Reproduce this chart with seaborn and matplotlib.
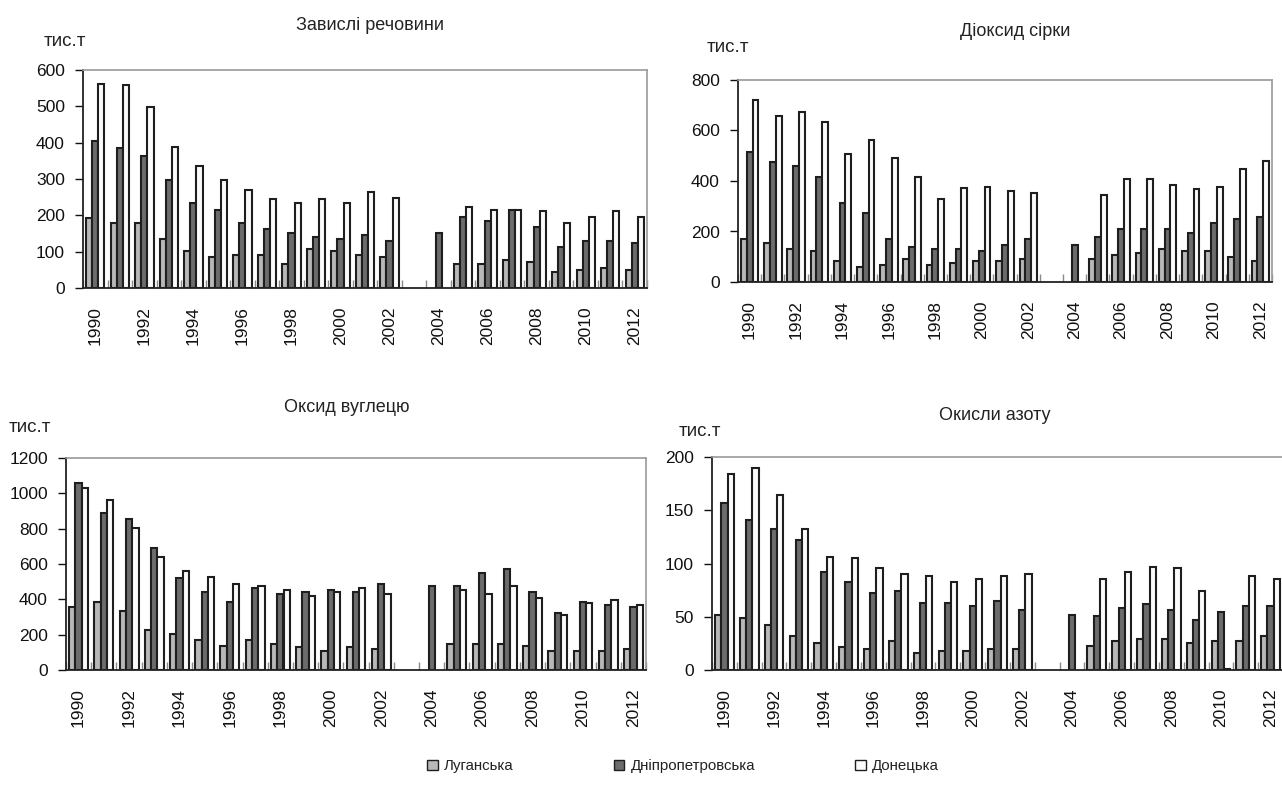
import numpy as np
import pandas as pd
import matplotlib
matplotlib.use("Agg")
import matplotlib.pyplot as plt
from matplotlib.patches import Patch
from matplotlib.ticker import MultipleLocator, FixedLocator
import seaborn as sns

sns.set_theme(style="white")
plt.rcParams["font.family"] = ["Liberation Sans", "DejaVu Sans"]

years = list(range(1990, 2013))
regions = ["Луганська", "Дніпропетровська", "Донецька"]
NA = np.nan

# Завислі речовини, тис.т
susp_lug = [194, 178, 178, 135, 102, 86, 92, 92, 65, 108, 102, 92, 86, NA, NA,
            65, 65, 76, 71, 43, 49, 54, 49]
susp_dnp = [405, 384, 363, 297, 233, 216, 178, 163, 152, 141, 135, 147, 130, NA, 152,
            195, 184, 216, 168, 113, 130, 130, 124]
susp_don = [561, 558, 497, 389, 335, 297, 271, 244, 233, 244, 233, 265, 249, NA, NA,
            222, 216, 216, 211, 178, 195, 211, 195]

# Діоксид сірки, тис.т
so2_lug = [170, 154, 130, 123, 83, 59, 67, 91, 67, 75, 84, 84, 92, NA, NA,
           92, 108, 116, 132, 124, 124, 100, 84]
so2_dnp = [516, 477, 461, 414, 312, 273, 170, 138, 130, 130, 124, 148, 171, NA, 148,
           179, 210, 210, 210, 195, 233, 249, 258]
so2_don = [721, 657, 673, 634, 507, 563, 491, 414, 328, 374, 376, 360, 352, NA, NA,
           345, 407, 407, 384, 368, 376, 447, 478]

# Оксид вуглецю, тис.т
co_lug = [355, 387, 335, 227, 204, 170, 138, 170, 149, 128, 106, 128, 117, NA, NA,
          149, 149, 149, 138, 108, 108, 108, 117]
co_dnp = [1060, 888, 854, 692, 520, 442, 387, 465, 431, 442, 454, 442, 486, NA, 474,
          474, 550, 573, 442, 323, 387, 367, 355]
co_don = [1028, 964, 801, 639, 561, 529, 486, 474, 454, 421, 442, 465, 431, NA, NA,
          454, 431, 474, 410, 312, 378, 399, 367]

# Окисли азоту, тис.т
nox_lug = [52, 49, 42, 32, 25, 22, 20, 27, 16, 18, 18, 20, 20, NA, NA,
           23, 27, 29, 29, 25, 27, 27, 32]
nox_dnp = [157, 141, 132, 122, 92, 83, 72, 74, 63, 63, 60, 65, 56, NA, 52,
           51, 58, 62, 56, 47, 54, 60, 60]
nox_don = [184, 190, 164, 132, 106, 105, 96, 90, 88, 83, 85, 88, 90, NA, NA,
           85, 92, 97, 96, 74, 1, 88, 85]

titles = ["Завислі речовини", "Діоксид сірки", "Оксид вуглецю", "Окисли азоту"]
unit = "тис.т"
ymax = [600, 800, 1200, 200]
ystep = [100, 200, 200, 50]
series = [
    (susp_lug, susp_dnp, susp_don),
    (so2_lug, so2_dnp, so2_don),
    (co_lug, co_dnp, co_don),
    (nox_lug, nox_dnp, nox_don),
]

colors = ["#b8b8b8", "#6c6c6c", "#fbfbfb"]
edge = "#1e1e1e"

W, H = 1282, 789
fig = plt.figure(figsize=(W / 100, H / 100), dpi=100)

# axes boxes in pixels: left, right, top, bottom
boxes = [(83, 647, 70, 288), (738, 1272, 80, 282),
         (66, 646, 458, 670), (712, 1283, 457, 670)]
title_pos = [(370, 25), (1015, 32), (347, 408), (995, 415)]
unit_pos = [(65, 42), (728, 48), (30, 427), (700, 432)]

year_labels = [str(y) for y in years]

for k in range(4):
    l, r, t, b = boxes[k]
    ax = fig.add_axes([l / W, 1 - b / H, (r - l) / W, (b - t) / H])
    lug, dnp, don = series[k]
    df = pd.DataFrame({
        "year": year_labels * 3,
        "region": np.repeat(regions, len(years)),
        "value": list(lug) + list(dnp) + list(don),
    }).dropna()
    sns.barplot(data=df, x="year", y="value", hue="region", order=year_labels,
                hue_order=regions, palette=colors, width=0.75, edgecolor=edge,
                linewidth=1.5, errorbar=None, legend=False, ax=ax, saturation=1)
    ax.set_xlim(-0.5, len(years) - 0.5)
    ax.set_ylim(0, ymax[k])
    ax.yaxis.set_major_locator(MultipleLocator(ystep[k]))
    ax.set_xlabel("")
    ax.set_ylabel("")

    ax.set_xticks(range(0, len(years), 2))
    ax.set_xticklabels(year_labels[::2], rotation=90)
    ax.xaxis.set_minor_locator(FixedLocator(np.arange(-0.5, len(years), 1.0)))
    ax.tick_params(axis="x", which="major", length=0, pad=13, labelsize=12.5,
                   colors="#111111")
    ax.tick_params(axis="x", which="minor", direction="in", length=6,
                   width=1.0, color="#8a8a8a", bottom=True)
    ax.tick_params(axis="y", which="major", direction="out", length=6, width=1.0,
                   color="#111111", labelsize=12.5, pad=7, left=True,
                   labelcolor="#111111")

    for side in ("left", "bottom"):
        ax.spines[side].set_color("#222222")
        ax.spines[side].set_linewidth(1.3)
    for side in ("top", "right"):
        ax.spines[side].set_color("#9a9a9a")
        ax.spines[side].set_linewidth(1.2)
    ax.spines["bottom"].set_zorder(5)

    tx, ty = title_pos[k]
    fig.text(tx / W, 1 - ty / H, titles[k], ha="center", va="center",
             fontsize=13, color="#222222")
    ux, uy = unit_pos[k]
    fig.text(ux / W, 1 - uy / H, unit, ha="center", va="center",
             fontsize=13.5, color="#222222")

handles = [Patch(facecolor=c, edgecolor=edge, linewidth=1.0) for c in colors]
fig.legend(handles, regions, loc="center", bbox_to_anchor=(683 / W, 1 - 766 / H),
           ncol=3, frameon=False, fontsize=10.8, handlelength=0.7,
           handleheight=0.7, handletextpad=0.4, columnspacing=6.7,
           labelcolor="#222222")

fig.savefig("out.png", dpi=100)
